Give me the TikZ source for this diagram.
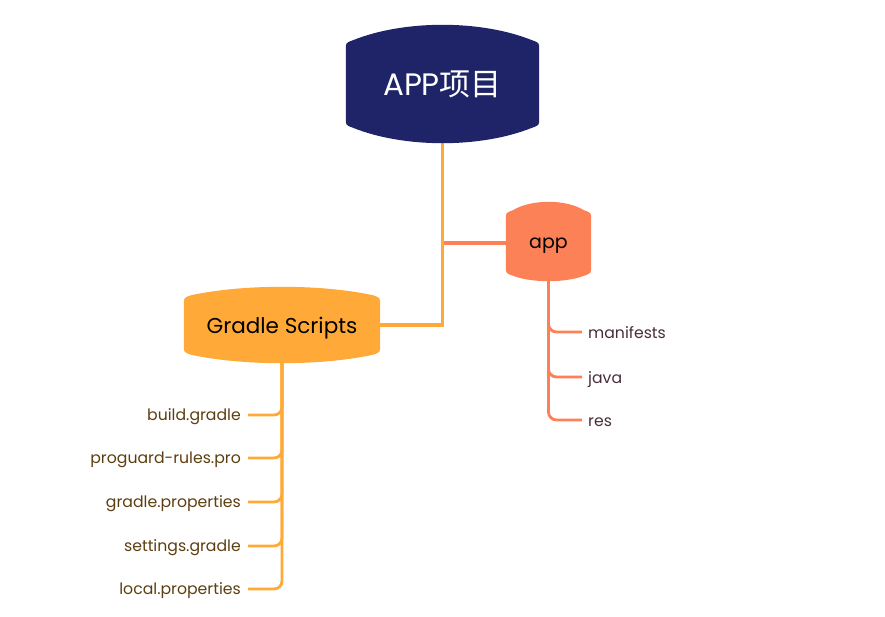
\documentclass[tikz,border=0pt]{standalone}
\usepackage{fontspec}
\setmainfont{Poppins}
\newfontfamily\cjk{Noto Sans CJK SC}
\usetikzlibrary{calc}
\definecolor{navy}{HTML}{1F2468}
\definecolor{amber}{HTML}{FFAA38}
\definecolor{coral}{HTML}{FC8157}
\definecolor{leafbrown}{HTML}{5C3F10}
\definecolor{leafplum}{HTML}{4A2D3C}
\pgfdeclarelayer{back}\pgfdeclarelayer{bg}\pgfdeclarelayer{mid}
\pgfsetlayers{back,bg,mid,main}
% #1 node name, #2 top bulge, #3 bottom bulge, #4 colour
\newcommand\bulgeshape[4]{%
\begin{pgfonlayer}{mid}
\fill[#4] let \p1=(#1.north west), \p2=(#1.south east), \n1={\x2-\x1} in
 (\x1,{\y1-7pt}) -- (\x1,{\y2+7pt})
 .. controls (\x1,\y2) .. ({\x1+7pt},{\y2-2.5pt})
 .. controls ({\x1+0.3*\n1},{\y2-(4*#3-2.5pt)/3}) and ({\x2-0.3*\n1},{\y2-(4*#3-2.5pt)/3}) .. ({\x2-7pt},{\y2-2.5pt})
 .. controls (\x2,\y2) .. (\x2,{\y2+7pt})
 -- (\x2,{\y1-7pt})
 .. controls (\x2,\y1) .. ({\x2-7pt},{\y1+2.5pt})
 .. controls ({\x2-0.3*\n1},{\y1+(4*#2-2.5pt)/3}) and ({\x1+0.3*\n1},{\y1+(4*#2-2.5pt)/3}) .. ({\x1+7pt},{\y1+2.5pt})
 .. controls (\x1,\y1) .. cycle;
\end{pgfonlayer}}
\tikzset{
  boxnode/.style={inner sep=0pt, align=center, text depth=0pt},
  mainline/.style={line width=3.8pt},
  leafline/.style={line width=2.8pt, rounded corners=8pt},
  gleaf/.style={anchor=east, inner sep=0pt, text=leafbrown, font=\fontsize{15.7}{15.7}\selectfont, text height=13pt, text depth=1.5pt},
  aleaf/.style={anchor=west, inner sep=0pt, text=leafplum, font=\fontsize{15.7}{15.7}\selectfont, text height=13.5pt, text depth=1pt},
}
\begin{document}
\begin{tikzpicture}[x=1pt,y=-1pt]
\useasboundingbox (0,0) rectangle (885,617);
\begin{pgfonlayer}{back}
\fill[white] (0,0) rectangle (885,617);
\end{pgfonlayer}

\node[boxnode, minimum width=193pt, minimum height=82pt, text=white,
      font=\fontsize{31}{31}\selectfont, text height=23pt] (root) at (442.5,84) {APP{\cjk 项目}};
\node[boxnode, minimum width=85pt, minimum height=60pt, text=black,
      font=\fontsize{19}{19}\selectfont, text height=12pt] (app) at (548.5,243) {app};
\node[boxnode, minimum width=196pt, minimum height=54pt, text=black,
      font=\fontsize{21.5}{21.5}\selectfont, text height=16pt] (gs) at (282,325) {Gradle Scripts};

\bulgeshape{root}{18pt}{18pt}{navy}
\bulgeshape{app}{11pt}{8pt}{coral}
\bulgeshape{gs}{11pt}{11pt}{amber}

\node[aleaf] (a1) at (588,332) {manifests};
\node[aleaf] (a2) at (588,377) {java};
\node[aleaf] (a3) at (588,420) {res};

\node[gleaf] (g1) at (241,415) {build.gradle};
\node[gleaf] (g2) at (241,458) {proguard-rules.pro};
\node[gleaf] (g3) at (241,502) {gradle.properties};
\node[gleaf] (g4) at (241,546) {settings.gradle};
\node[gleaf] (g5) at (241,589) {local.properties};

\begin{pgfonlayer}{bg}
\draw[mainline, coral] (root.south |- app.west) -- (app.west);
\draw[mainline, amber] (root.south) |- (gs.east);
\foreach \n in {a1,a2,a3}
  \draw[leafline, coral] (app.south) |- ([xshift=-6pt]\n.west);
\foreach \n in {g1,g2,g3,g4,g5}
  \draw[leafline, amber] (gs.south) |- ([xshift=7pt]\n.east);
\end{pgfonlayer}
\end{tikzpicture}
\end{document}
